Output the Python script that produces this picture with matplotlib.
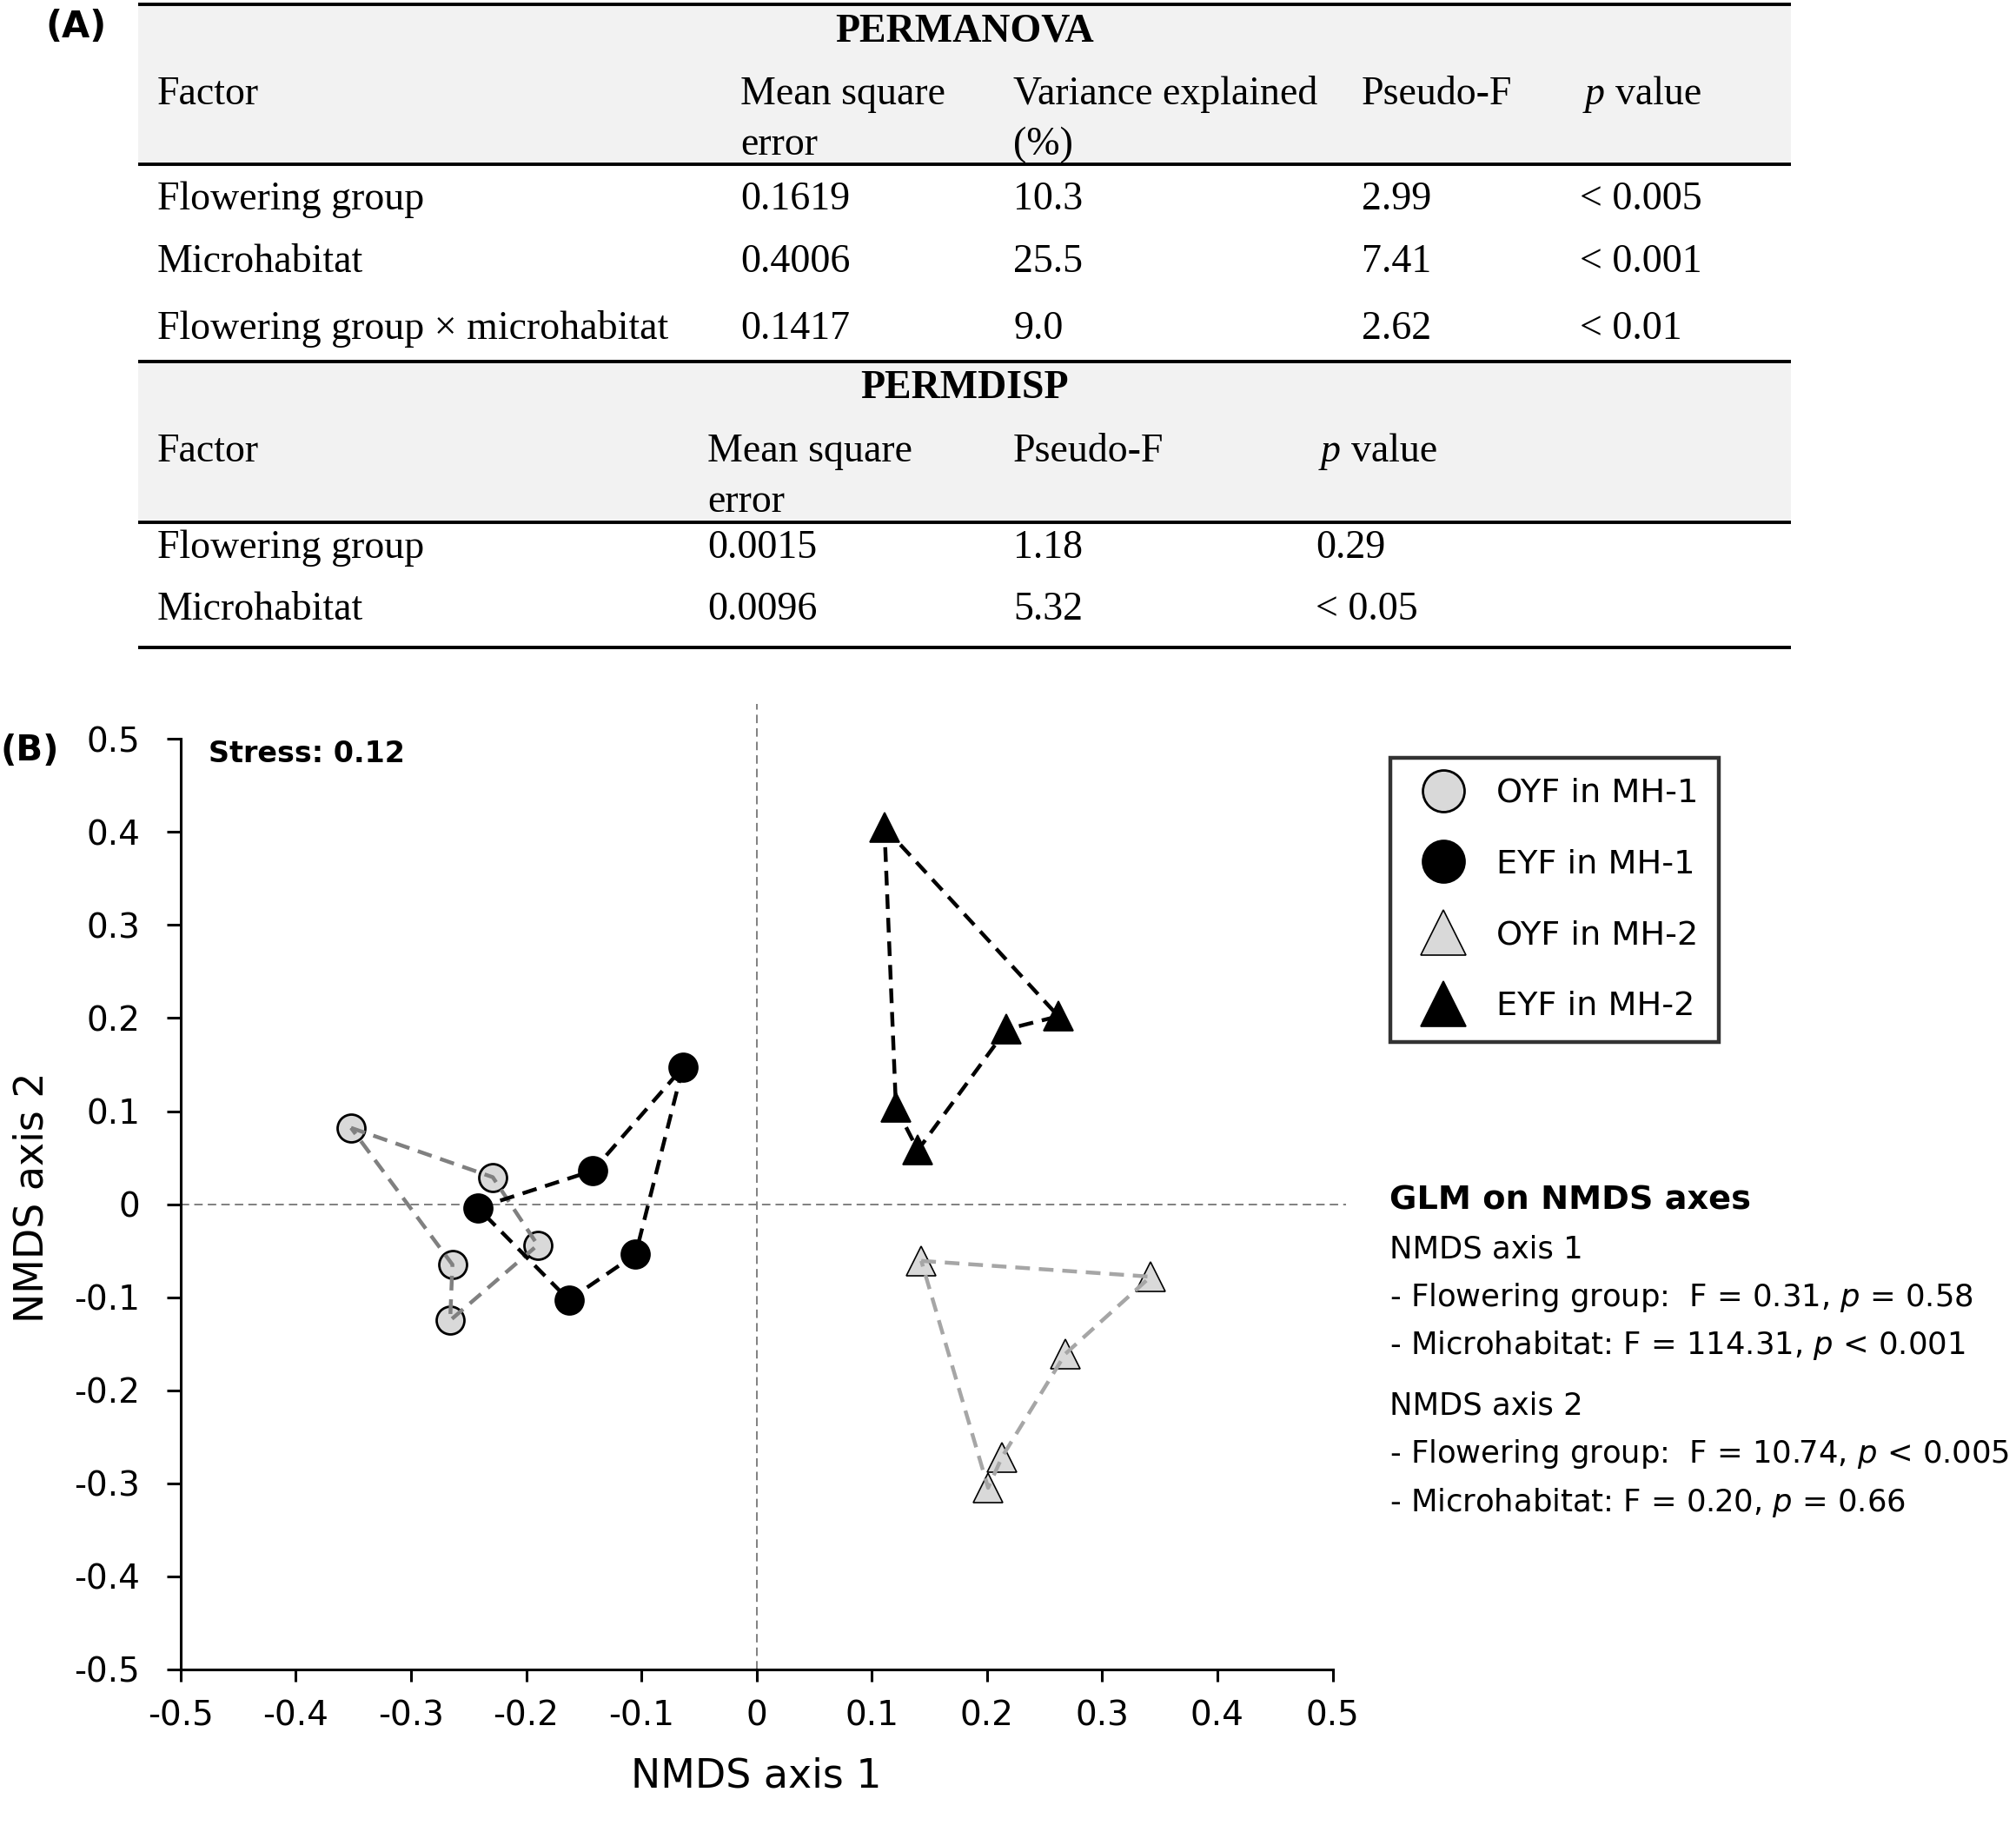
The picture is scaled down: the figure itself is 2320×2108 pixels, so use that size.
import matplotlib
matplotlib.use("Agg")
import matplotlib.pyplot as plt
from matplotlib.patches import Rectangle

plt.rcParams['axes.unicode_minus'] = False
plt.rcParams['font.family'] = ['DejaVu Sans']

# ---- data (B): NMDS scores, listed in polygon order ----
oyf_mh1_x = [-0.352, -0.229, -0.190, -0.266, -0.264]
oyf_mh1_y = [0.082, 0.029, -0.044, -0.125, -0.065]
eyf_mh1_x = [-0.242, -0.142, -0.064, -0.105, -0.163]
eyf_mh1_y = [-0.004, 0.036, 0.147, -0.054, -0.103]
oyf_mh2_x = [0.143, 0.342, 0.268, 0.213, 0.201]
oyf_mh2_y = [-0.061, -0.078, -0.161, -0.272, -0.305]
eyf_mh2_x = [0.111, 0.262, 0.217, 0.140, 0.121]
eyf_mh2_y = [0.405, 0.202, 0.188, 0.058, 0.104]
group_labels = ['OYF in MH-1', 'EYF in MH-1', 'OYF in MH-2', 'EYF in MH-2']
tick_vals = [-0.5, -0.4, -0.3, -0.2, -0.1, 0, 0.1, 0.2, 0.3, 0.4, 0.5]
tick_labels = ['-0.5', '-0.4', '-0.3', '-0.2', '-0.1', '0', '0.1', '0.2', '0.3', '0.4', '0.5']
stress = '0.12'

# ---- data (A): tables ----
permanova_head = ['Factor', 'Mean square\nerror', 'Variance explained\n(%)', 'Pseudo-F']
permanova_factor = ['Flowering group', 'Microhabitat', 'Flowering group \u00d7 microhabitat']
permanova_ms = ['0.1619', '0.4006', '0.1417']
permanova_var = ['10.3', '25.5', '9.0']
permanova_f = ['2.99', '7.41', '2.62']
permanova_p = ['< 0.005', '< 0.001', '< 0.01']
permdisp_head = ['Factor', 'Mean square\nerror', 'Pseudo-F']
permdisp_factor = ['Flowering group', 'Microhabitat']
permdisp_ms = ['0.0015', '0.0096']
permdisp_f = ['1.18', '5.32']
permdisp_p = ['0.29', '< 0.05']

glm_lines = ['NMDS axis 1',
             '- Flowering group:  F = 0.31, $p$ = 0.58',
             '- Microhabitat: F = 114.31, $p$ < 0.001',
             'NMDS axis 2',
             '- Flowering group:  F = 10.74, $p$ < 0.005',
             '- Microhabitat: F = 0.20, $p$ = 0.66']

W, H = 2320, 2108
fig = plt.figure(figsize=(W / 100, H / 100), dpi=100)

# ---------------- table panel, pixel coordinates ----------------
tab = fig.add_axes([0, 0, 1, 1])
tab.set_xlim(0, W)
tab.set_ylim(H, 0)
tab.axis('off')
serif = ['Liberation Serif', 'DejaVu Serif']
fst = 33
tl, tr = 159, 2061
tab.add_patch(Rectangle((tl, 5), tr - tl, 184, color='#f2f2f2', lw=0))
tab.add_patch(Rectangle((tl, 416), tr - tl, 185, color='#f2f2f2', lw=0))
for yy in [5, 189, 416, 601, 745]:
    tab.plot([tl, tr], [yy, yy], color='black', lw=2.8, solid_capstyle='butt')

def ttext(x, y, s, **kw):
    tab.text(x, y, s, fontsize=fst, family=serif, va='baseline', **kw)

ttext((tl + tr) / 2, 48, 'PERMANOVA', ha='center', weight='bold')
cols1 = [181, 852, 1166, 1567]
for x, h in zip(cols1, permanova_head):
    parts = h.split('\n')
    ttext(x, 120, parts[0])
    if len(parts) > 1:
        ttext(x, 178, parts[1])
ttext(1824, 120, 'p', style='italic')
ttext(1859, 120, 'value')
rows1 = [241, 313, 390]
for i, y in enumerate(rows1):
    ttext(181, y, permanova_factor[i])
    ttext(852, y, permanova_ms[i])
    ttext(1166, y, permanova_var[i])
    ttext(1567, y, permanova_f[i])
    ttext(1818, y, permanova_p[i])

ttext((tl + tr) / 2, 458, 'PERMDISP', ha='center', weight='bold')
cols2 = [181, 814, 1166]
for x, h in zip(cols2, permdisp_head):
    parts = h.split('\n')
    ttext(x, 531, parts[0])
    if len(parts) > 1:
        ttext(x, 589, parts[1])
ttext(1520, 531, 'p', style='italic')
ttext(1555, 531, 'value')
rows2 = [642, 713]
for i, y in enumerate(rows2):
    ttext(181, y, permdisp_factor[i])
    ttext(814, y, permdisp_ms[i])
    ttext(1166, y, permdisp_f[i])
    ttext(1514, y, permdisp_p[i])

fig.text(52 / W, 1 - 31 / H, '(A)', fontsize=30, weight='bold', va='center')
fig.text(0 / W, 1 - 864 / H, '(B)', fontsize=29, weight='bold', va='center')

# ---------------- NMDS panel ----------------
ax = fig.add_axes([207.8 / W, 187.3 / H, 1325.7 / W, 1070.3 / H])
ax.set_facecolor('none')
ax.set_xlim(-0.5, 0.5)
ax.set_ylim(-0.5, 0.5)

ax.plot([0, 0], [-0.5, 0.538], color='#808080', lw=1.4, dashes=(5, 3), clip_on=False, zorder=1)
ax.plot([-0.5, 0.512], [0, 0], color='#808080', lw=1.4, dashes=(5, 3), clip_on=False, zorder=1)

groups = [
    (oyf_mh1_x, oyf_mh1_y, 'o', '#d9d9d9', 2.0, '#808080', 23),
    (eyf_mh1_x, eyf_mh1_y, 'o', 'black', 2.0, 'black', 23),
    (oyf_mh2_x, oyf_mh2_y, '^', '#d9d9d9', 1.2, '#a6a6a6', 25),
    (eyf_mh2_x, eyf_mh2_y, '^', 'black', 1.2, 'black', 25),
]
handles = []
for (gx, gy, mk, fc, mew, lc, ms), lab in zip(groups, group_labels):
    h, = ax.plot(gx, gy, ls='none', marker=mk, ms=ms, mfc=fc, mec='black', mew=mew,
                 label=lab, zorder=3, clip_on=False)
    handles.append(h)
    ax.plot(gx + gx[:1], gy + gy[:1], color=lc, lw=3.2, dashes=(3.8, 2.3), zorder=4)

for s in ['top', 'right']:
    ax.spines[s].set_visible(False)
for s in ['left', 'bottom']:
    ax.spines[s].set_linewidth(2.2)
ax.set_xticks(tick_vals, tick_labels)
ax.set_yticks(tick_vals, tick_labels)
ax.tick_params(axis='both', direction='out', width=2.2, labelsize=28)
ax.tick_params(axis='y', length=11.5, pad=22)
ax.tick_params(axis='x', length=10, pad=15)
ax.set_xlabel('NMDS axis 1', fontsize=33, va='center')
ax.xaxis.set_label_coords(0.5, -(2044 - 1920.7) / 1070.3)
ax.set_ylabel('NMDS axis 2', fontsize=33, va='center')
ax.yaxis.set_label_coords((37 - 207.8) / 1325.7, 0.507)

ax.text(0.0243, 0.999, 'Stress: ' + stress, transform=ax.transAxes, fontsize=24,
        weight='bold', va='top', ha='left')

leg = fig.legend(handles=handles, loc='upper left', bbox_to_anchor=(1600 / W, 1 - 872 / H),
                 borderaxespad=0, fontsize=27.5, markerscale=1.5, frameon=True, fancybox=False,
                 edgecolor='black', borderpad=0.6, labelspacing=1.2, handlelength=2.0,
                 handletextpad=0.6)
leg.get_frame().set_linewidth(3.2)

fig.text(1599 / W, 1 - 1381 / H, 'GLM on NMDS axes', fontsize=27.5, weight='bold', va='center')
glm_y = [1437, 1493, 1548, 1617, 1673, 1729]
for y, s in zip(glm_y, glm_lines):
    fig.text(1599 / W, 1 - y / H, s, fontsize=25.5, va='center')

fig.savefig('out.png', dpi=100)
